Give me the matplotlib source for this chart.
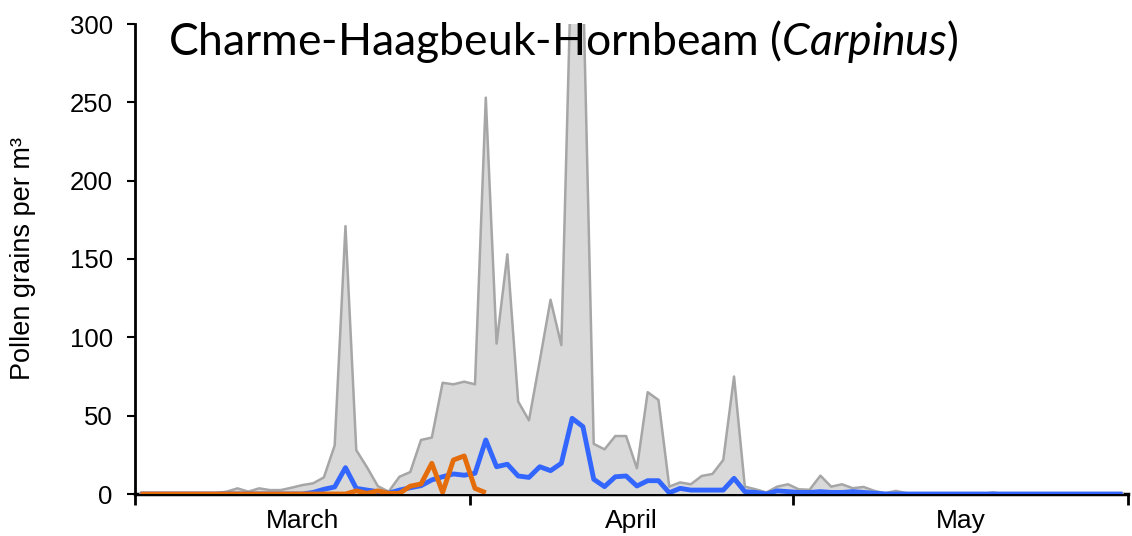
import numpy as np
import matplotlib
matplotlib.use("Agg")
import matplotlib.pyplot as plt

# daily values, 1 March (day 0) to 31 May (day 91)
days = np.arange(92)

gray_max = [0, 0, 0, 0, 0, 0, 0, 0.5, 1.5, 3.6,
            1.5, 3.6, 2.5, 2.5, 4, 5.7, 6.8, 10.6, 31, 171,
            28, 17, 5, 1.5, 11, 14, 34.5, 36, 71, 70,
            71.7, 70, 253, 96, 153, 59, 47, 85, 124, 95,
            360, 330, 32, 28.5, 37, 37, 16.4, 65, 60, 4.7,
            7.4, 6.2, 11.5, 12.8, 21.7, 75, 4.7, 3, 1, 4.7,
            6.2, 3, 2.7, 11.7, 4.7, 6.2, 3.7, 4.5, 2, 0.5,
            2, 0.5, 0, 0, 0, 0, 0, 0, 0, 1,
            0, 0, 0, 0, 0, 0, 0, 0, 0, 0,
            0, 0]

blue_mean = [0, 0, 0, 0, 0, 0, 0, 0, 0, 0,
             0, 0, 0, 0, 0, 0, 1, 3, 4.5, 16.8,
             3.6, 2.5, 1.5, 0.5, 2.5, 4, 5.3, 9, 11, 12.8,
             12, 13.2, 34.5, 17.4, 19, 11.5, 10.6, 17.4, 14.9, 19.6,
             48.3, 43, 9.4, 4.7, 11, 11.5, 5.1, 8.5, 8.5, 0.8,
             3.6, 2.5, 2.5, 2.5, 2.5, 10, 1.5, 1, 0, 2,
             1.5, 1, 1, 1.5, 1, 1, 1.5, 1, 0.5, 0,
             0, 0, 0, 0, 0, 0, 0, 0, 0, 0,
             0, 0, 0, 0, 0, 0, 0, 0, 0, 0,
             0, 0]

orange_current = [0, 0, 0, 0, 0, 0, 0, 0, 0, 0,
                  0, 0, 0, 0, 0, 0, 0, 0, 0, 0,
                  2, 0.4, 2, 0.4, 0.4, 5, 6.4, 19.6, 1, 21.7,
                  24.3, 3.6, 0.8]

month_starts = [0, 31, 61, 92]
month_names = ["March", "April", "May"]

plt.rcParams['mathtext.fontset'] = 'custom'
plt.rcParams['mathtext.rm'] = 'Lato'
plt.rcParams['mathtext.it'] = 'Lato:italic'

fig = plt.figure(figsize=(11.32, 5.36), dpi=100)
ax = fig.add_axes([135 / 1132, 42 / 536, 993 / 1132, 470 / 536])

x = days + 0.5
ax.fill_between(x, 0, gray_max, color='#d9d9d9', linewidth=0, zorder=1)
ax.plot(x, gray_max, color='#a6a6a6', linewidth=1.8, zorder=2)
ax.plot(x, blue_mean, color='#3366ff', linewidth=3.5, zorder=3, solid_capstyle='butt')
ax.plot(x[:len(orange_current)], orange_current, color='#e46c0a', linewidth=3.5,
        zorder=4, solid_capstyle='butt')

ax.set_xlim(0, 92)
ax.set_ylim(0, 300)

for side in ['top', 'right']:
    ax.spines[side].set_visible(False)
ax.spines['left'].set_linewidth(2)
ax.spines['bottom'].set_linewidth(2.5)
ax.spines['bottom'].set_zorder(0)

ax.set_yticks(np.arange(0, 301, 50))
ax.tick_params(axis='y', direction='out', length=6, width=1.5, labelsize=18.5,
               pad=10, labelcolor='#000000')
for lab in ax.get_yticklabels():
    lab.set_fontfamily('Liberation Sans')

ax.set_xticks(month_starts)
ax.set_xticklabels([])
ax.tick_params(axis='x', which='major', direction='out', length=8, width=2)
mids = [(month_starts[i] + month_starts[i + 1]) / 2 for i in range(3)]
ax.set_xticks(mids, minor=True)
ax.set_xticklabels(month_names, minor=True, fontsize=19, fontfamily='Liberation Sans')
ax.tick_params(axis='x', which='minor', length=0, pad=11)

ax.set_ylabel('Pollen grains per m³', fontsize=19.5, fontfamily='Liberation Sans', labelpad=24)

ax.text(0.033, 1.012, r'Charme-Haagbeuk-Hornbeam ($\mathit{Carpinus}$)',
        transform=ax.transAxes, fontsize=32, fontfamily='Lato', va='top', ha='left')

fig.savefig('out.png', dpi=100)
